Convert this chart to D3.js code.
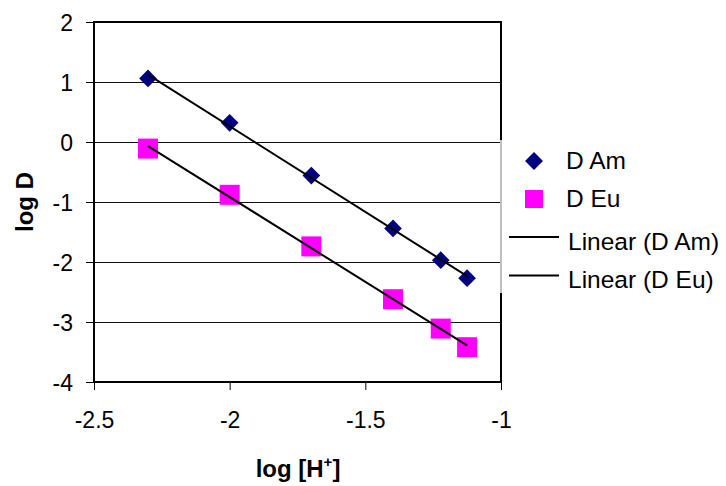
<!DOCTYPE html>
<html>
<head>
<meta charset="utf-8">
<script src="https://cdn.jsdelivr.net/npm/d3@7"></script>
<style>
  body { margin: 0; background: #fff; }
  svg { font-family: "Liberation Sans", Arial, sans-serif; }
</style>
</head>
<body>
<div id="chart"></div>
<script>
// data
const logH = [-2.301, -2.0, -1.699, -1.398, -1.222, -1.125];
const logDAm = [1.06, 0.32, -0.56, -1.44, -1.97, -2.27];
const logDEu = [-0.11, -0.88, -1.74, -2.62, -3.11, -3.42];
const xTicks = [-2.5, -2, -1.5, -1];
const yTicks = [-4, -3, -2, -1, 0, 1, 2];
const legendLabels = ["D Am", "D Eu", "Linear (D Am)", "Linear (D Eu)"];

const width = 726, height = 486;
const plot = {left: 94, right: 501, top: 22, bottom: 382};

const svg = d3.select("#chart").append("svg")
    .attr("width", width)
    .attr("height", height);

const x = d3.scaleLinear().domain([-2.5, -1]).range([plot.left, plot.right]);
const y = d3.scaleLinear().domain([-4, 2]).range([plot.bottom, plot.top]);

// gridlines
svg.append("g")
    .selectAll("line")
    .data(yTicks.filter(d => d > -4 && d < 2))
    .join("line")
    .attr("x1", plot.left).attr("x2", plot.right)
    .attr("y1", d => y(d)).attr("y2", d => y(d))
    .attr("stroke", "#111").attr("stroke-width", 1)
    .attr("shape-rendering", "crispEdges");

// axes
const yAxis = svg.append("g")
    .attr("transform", `translate(${plot.left},0)`)
    .call(d3.axisLeft(y).tickValues(yTicks).tickSize(8).tickPadding(13).tickFormat(d => String(d)));
const xAxis = svg.append("g")
    .attr("transform", `translate(0,${plot.bottom})`)
    .call(d3.axisBottom(x).tickValues(xTicks).tickSize(8).tickPadding(22).tickFormat(d => String(d)));
[yAxis, xAxis].forEach(g => {
    g.select(".domain").remove();
    g.selectAll("text").attr("font-size", 23).attr("fill", "#000")
        .attr("font-family", "'Liberation Sans', Arial, sans-serif");
    g.selectAll("line").attr("stroke", "#000");
});
yAxis.selectAll("text").attr("dy", "0.36em");

// plot frame
svg.append("rect")
    .attr("x", plot.left).attr("y", plot.top)
    .attr("width", plot.right - plot.left).attr("height", plot.bottom - plot.top)
    .attr("fill", "none").attr("stroke", "#000").attr("stroke-width", 2);

// least squares trend lines
const fit = (xs, ys) => {
    const mx = d3.mean(xs), my = d3.mean(ys);
    const b = d3.sum(xs, (v, i) => (v - mx) * (ys[i] - my)) / d3.sum(xs, v => (v - mx) ** 2);
    return v => my + b * (v - mx);
};
const xExt = d3.extent(logH);

// markers
const amPts = logH.map((v, i) => [v, logDAm[i]]);
const euPts = logH.map((v, i) => [v, logDEu[i]]);
svg.append("g").selectAll("path")
    .data(euPts)
    .join("path")
    .attr("transform", d => `translate(${x(d[0])},${y(d[1])})`)
    .attr("d", d3.symbol(d3.symbolSquare, 400))
    .attr("fill", "#ff00ff");
svg.append("g").selectAll("path")
    .data(amPts)
    .join("path")
    .attr("transform", d => `translate(${x(d[0])},${y(d[1])}) rotate(45)`)
    .attr("d", d3.symbol(d3.symbolSquare, 156))
    .attr("fill", "#000080");

// trend lines on top of markers
[logDAm, logDEu].forEach(ys => {
    const f = fit(logH, ys);
    svg.append("line")
        .attr("x1", x(xExt[0])).attr("y1", y(f(xExt[0])))
        .attr("x2", x(xExt[1])).attr("y2", y(f(xExt[1])))
        .attr("stroke", "#000").attr("stroke-width", 2);
});

// legend
const lg = svg.append("g");
lg.append("rect")
    .attr("x", plot.right - 1).attr("y", 140)
    .attr("width", width - plot.right + 2).attr("height", 153)
    .attr("fill", "#fff");
lg.append("line")
    .attr("x1", plot.right).attr("x2", plot.right)
    .attr("y1", 140).attr("y2", 293)
    .attr("stroke", "#aaa").attr("stroke-width", 1.5);

const rowY = [161, 199, 237, 275.5];
const textY = [168.5, 207, 250, 288];
lg.append("path")
    .attr("transform", `translate(534,${rowY[0]}) rotate(45)`)
    .attr("d", d3.symbol(d3.symbolSquare, 160))
    .attr("fill", "#000080");
lg.append("path")
    .attr("transform", `translate(534,${rowY[1]})`)
    .attr("d", d3.symbol(d3.symbolSquare, 324))
    .attr("fill", "#ff00ff");
[2, 3].forEach(i => {
    lg.append("line")
        .attr("x1", 509).attr("x2", 559)
        .attr("y1", rowY[i]).attr("y2", rowY[i])
        .attr("stroke", "#000").attr("stroke-width", 2);
});
lg.selectAll("text")
    .data(legendLabels)
    .join("text")
    .attr("x", (d, i) => i < 2 ? 566 : 568)
    .attr("y", (d, i) => textY[i])
    .attr("font-size", 24.5)
    .text(d => d);

// axis titles
svg.append("text")
    .attr("transform", `translate(33,${(plot.top + plot.bottom) / 2}) rotate(-90)`)
    .attr("text-anchor", "middle")
    .attr("font-size", 24).attr("font-weight", "bold")
    .text("log D");

const xt = svg.append("text")
    .attr("x", 298)
    .attr("y", 477)
    .attr("text-anchor", "middle")
    .attr("font-size", 24).attr("font-weight", "bold");
xt.append("tspan").text("log [H");
xt.append("tspan").attr("font-size", 15).attr("dy", -10).text("+");
xt.append("tspan").attr("dy", 10).text("]");
</script>
</body>
</html>
